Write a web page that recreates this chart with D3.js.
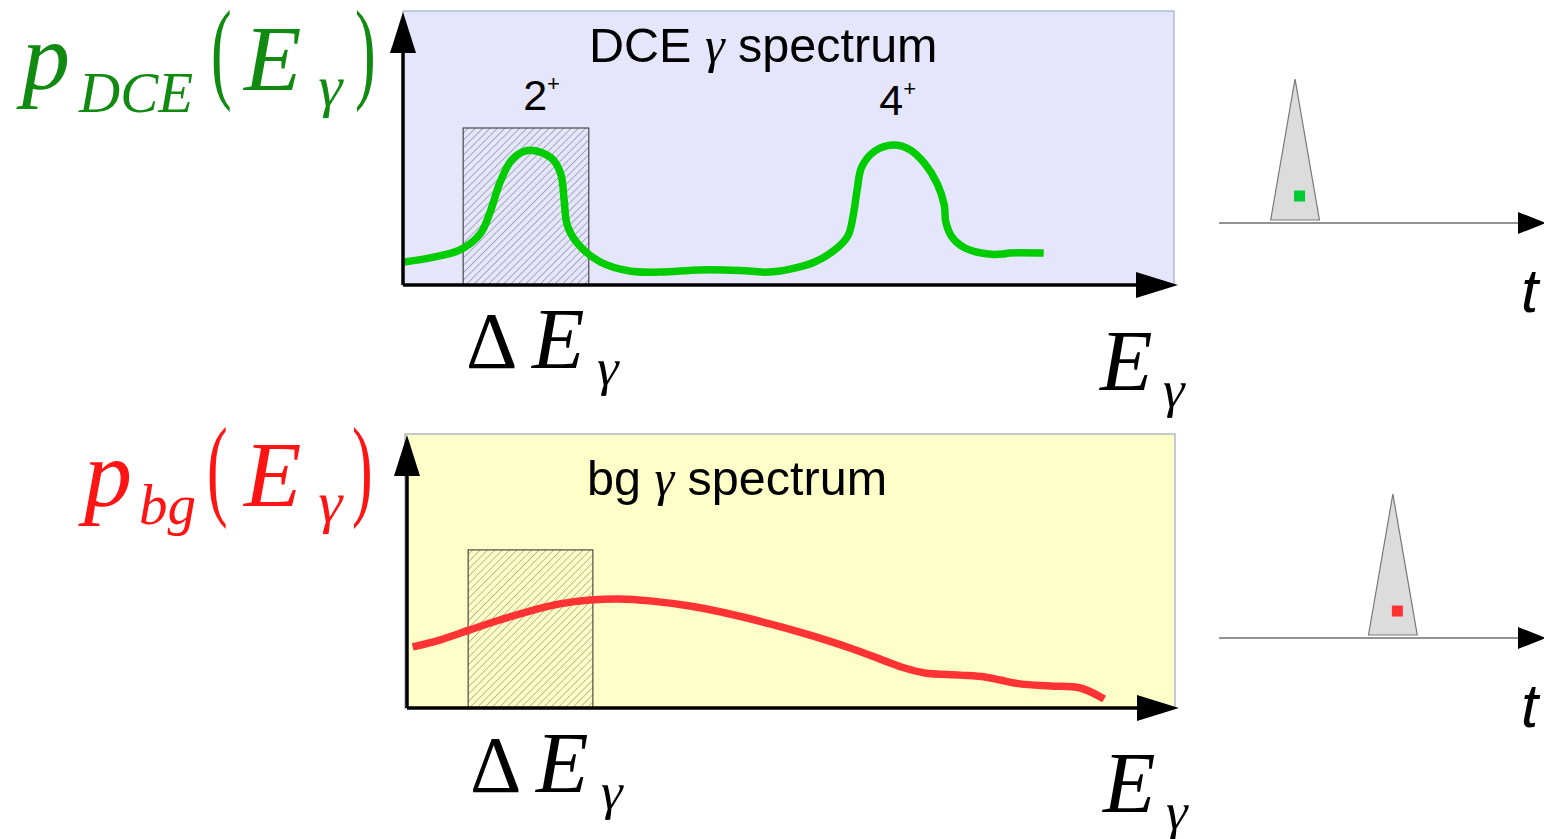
<!DOCTYPE html>
<html>
<head>
<meta charset="utf-8">
<script src="https://cdn.jsdelivr.net/npm/d3@7"></script>
<style>
  html, body { margin: 0; padding: 0; background: #ffffff; }
  svg { display: block; }
  .sans { font-family: "Liberation Sans", Arial, sans-serif; }
  .math { font-family: "Liberation Serif", "DejaVu Serif", serif; font-style: italic; }
  .greek { font-family: "Liberation Serif", "DejaVu Serif", serif; }
  .upright { font-family: "Liberation Serif", "DejaVu Serif", serif; }
</style>
</head>
<body>
<svg id="fig" width="1544" height="839"></svg>
<script>
// ---- data ----------------------------------------------------------------
// Energy axis in arbitrary units 0..100, probability density 0..1
const dceEnergy = [0.1, 3.5, 7.4, 10.0, 11.3, 12.6, 14.1, 15.8, 17.8, 19.5, 20.5, 20.9, 21.3, 22.6, 25.6, 29.4, 33.3, 38.5, 43.7, 47.3, 50.2, 53.4, 56.0, 57.7, 58.4, 58.9, 59.5, 61.2, 63.6, 65.8, 67.7, 69.3, 70.2, 70.4, 71.2, 72.9, 75.9, 77.8, 78.7, 83.1];
const dceDensity = [0.084, 0.099, 0.128, 0.186, 0.266, 0.376, 0.456, 0.489, 0.485, 0.456, 0.401, 0.310, 0.219, 0.153, 0.084, 0.051, 0.047, 0.055, 0.053, 0.047, 0.058, 0.084, 0.128, 0.179, 0.255, 0.347, 0.431, 0.489, 0.511, 0.493, 0.442, 0.369, 0.292, 0.230, 0.175, 0.135, 0.113, 0.113, 0.117, 0.117];

const bgEnergy = [1.0, 4.5, 8.4, 12.3, 16.2, 20.1, 24.0, 27.9, 31.8, 37.0, 42.2, 47.4, 52.6, 57.8, 62.3, 64.9, 67.5, 72.1, 75.3, 77.3, 79.9, 83.8, 87.7, 90.8];
const bgDensity = [0.223, 0.248, 0.285, 0.321, 0.354, 0.380, 0.394, 0.398, 0.391, 0.372, 0.343, 0.307, 0.266, 0.219, 0.172, 0.146, 0.128, 0.120, 0.113, 0.102, 0.088, 0.080, 0.073, 0.033];

// Energy gate ΔE_γ around the 2+ line: [from, to, height on the density axis]
const gateDce = [7.8, 24.1, 0.573];
const gateBg = [8.2, 24.4, 0.577];

// Peak labels [label, energy, density]
const peakLabels = [["2", 17.4, 0.64], ["4", 63.6, 0.62]];

// Time structure: pulse centres, half-width, height, marker level
const pulseTimes = [23.4, 53.5];
const pulseHalfWidth = 7.5;
const pulseHeight = 1.0;
const markerLevel = 0.17;

// ---- layout --------------------------------------------------------------
const svg = d3.select("#fig");
const defs = svg.append("defs");

const panels = [
  { key: "dce", x0: 403, x1: 1174, y0: 11, y1: 285, fill: "#e5e5fb", border: "#9fb0cf",
    hatch: "#6c6c80", curve: "#00cc00", E: dceEnergy, P: dceDensity, gate: gateDce,
    title: "DCE", titleX: 589, titleY: 62, axisX: 403, axisY: 285 },
  { key: "bg", x0: 405, x1: 1175, y0: 434, y1: 708, fill: "#fefec8", border: "#9aa6be",
    hatch: "#80805a", curve: "#ff3333", E: bgEnergy, P: bgDensity, gate: gateBg,
    title: "bg", titleX: 587, titleY: 495, axisX: 407, axisY: 708 }
];

panels.forEach(p => {
  const x = d3.scaleLinear().domain([0, 100]).range([p.x0, p.x1]);
  const y = d3.scaleLinear().domain([0, 1]).range([p.y1, p.y0]);
  const g = svg.append("g");

  // background
  g.append("rect")
    .attr("x", p.x0).attr("y", p.y0)
    .attr("width", p.x1 - p.x0).attr("height", p.y1 - p.y0)
    .attr("fill", p.fill).attr("stroke", p.border).attr("stroke-width", 1.2);

  // hatch pattern for the energy gate
  const step = 5.2;
  const pat = defs.append("pattern")
    .attr("id", "hatch-" + p.key)
    .attr("patternUnits", "userSpaceOnUse")
    .attr("width", step).attr("height", step)
    .attr("patternTransform", "rotate(45)");
  pat.append("rect").attr("width", step).attr("height", step).attr("fill", p.fill);
  pat.append("line")
    .attr("x1", 0).attr("y1", 0).attr("x2", 0).attr("y2", step)
    .attr("stroke", p.hatch).attr("stroke-width", 1);

  g.append("rect")
    .attr("x", x(p.gate[0])).attr("y", y(p.gate[2]))
    .attr("width", x(p.gate[1]) - x(p.gate[0]))
    .attr("height", y(0) - y(p.gate[2]))
    .attr("fill", "url(#hatch-" + p.key + ")")
    .attr("stroke", "#2a2a2a").attr("stroke-width", 1);

  // spectrum curve
  const pts = p.E.map((e, i) => [e, p.P[i]]);
  g.append("path")
    .datum(pts)
    .attr("d", d3.line().x(d => x(d[0])).y(d => y(d[1])).curve(d3.curveCatmullRom.alpha(0.5)))
    .attr("fill", "none").attr("stroke", p.curve).attr("stroke-width", 7.5)
    .attr("stroke-linejoin", "round");

  // axes with arrowheads
  const ax = p.axisX, ay = p.axisY;
  g.append("line").attr("x1", ax).attr("y1", ay).attr("x2", p.x1 - 20).attr("y2", ay)
    .attr("stroke", "#000").attr("stroke-width", 3.5);
  g.append("line").attr("x1", ax).attr("y1", ay).attr("x2", ax).attr("y2", p.y0 + 30)
    .attr("stroke", "#000").attr("stroke-width", 3.5);
  const tipX = p.x1 + 4;
  g.append("path")
    .attr("d", `M${tipX},${ay} L${tipX - 42},${ay - 13} L${tipX - 42},${ay + 13} Z`)
    .attr("fill", "#000");
  const tipY = p.y0 + 1;
  g.append("path")
    .attr("d", `M${ax},${tipY} L${ax - 13},${tipY + 41} L${ax + 13},${tipY + 41} Z`)
    .attr("fill", "#000");

  // panel title
  const t = g.append("text").attr("class", "sans")
    .attr("x", p.titleX).attr("y", p.titleY)
    .attr("font-size", 48.5).attr("fill", "#000");
  t.append("tspan").text(p.title + " ");
  t.append("tspan").attr("font-family", "Liberation Serif, serif")
    .attr("font-style", "italic").attr("font-size", 50).text("γ");
  t.append("tspan").text(" spectrum");

  if (p.key === "dce") {
    peakLabels.forEach(([lab, e, d]) => {
      const lt = g.append("text").attr("class", "sans")
        .attr("x", x(e) - 14).attr("y", y(d))
        .attr("font-size", 43).attr("fill", "#000");
      lt.append("tspan").text(lab);
      lt.append("tspan").attr("font-size", 22).attr("dy", -19).text("+");
    });
  }
});

// ---- mathematical labels -------------------------------------------------
function parens(x, base, color, which) {
  svg.append("text").attr("class", "upright")
    .attr("transform", `translate(${x},${base}) scale(1,1.8)`)
    .attr("font-size", 62).attr("fill", color).text(which);
}

function greek(x, base, size, color) {
  // slightly slanted upright γ, as in the math typesetting
  svg.append("text").attr("class", "greek")
    .attr("transform", `translate(${x},${base}) skewX(-10)`)
    .attr("font-size", size).attr("fill", color).text("γ");
}

function densityLabel(o) {
  const c = o.color;
  svg.append("text").attr("class", "math").attr("x", o.px).attr("y", o.pBase)
    .attr("font-size", 96).attr("fill", c).text("p");
  svg.append("text").attr("class", "math").attr("x", o.subX).attr("y", o.subBase)
    .attr("font-size", 57).attr("fill", c).text(o.sub);
  parens(o.lpX, o.parBase, c, "(");
  svg.append("text").attr("class", "math").attr("x", o.eX).attr("y", o.eBase)
    .attr("font-size", 94).attr("fill", c).text("E");
  greek(o.gX, o.gBase, 58, c);
  parens(o.rpX, o.parBase, c, ")");
}

densityLabel({ color: "#118a11", px: 22, pBase: 89, sub: "DCE", subX: 79, subBase: 112,
  lpX: 211, parBase: 88, eX: 244, eBase: 90, gX: 315, gBase: 106, rpX: 355 });
densityLabel({ color: "#ff1414", px: 84, pBase: 506, sub: "bg", subX: 139, subBase: 524,
  lpX: 207, parBase: 505, eX: 244, eBase: 506, gX: 315, gBase: 522, rpX: 352 });

function gateLabel(x, base) {
  svg.append("text").attr("class", "upright").attr("x", x).attr("y", base)
    .attr("font-size", 80).attr("fill", "#000").text("Δ");
  svg.append("text").attr("class", "math").attr("x", x + 66).attr("y", base)
    .attr("font-size", 86).attr("fill", "#000").text("E");
  greek(x + 128, base + 17, 52, "#000");
}
gateLabel(466, 368);
gateLabel(470, 792);

function energyLabel(x, base) {
  svg.append("text").attr("class", "math").attr("x", x).attr("y", base)
    .attr("font-size", 86).attr("fill", "#000").text("E");
  greek(x + 60, base + 17, 52, "#000");
}
energyLabel(1100, 390);
energyLabel(1103, 812);

// ---- time structure ------------------------------------------------------
const tScale = d3.scaleLinear().domain([0, 100]).range([1219, 1544]);
const timeRows = [
  { axisY: 223, top: 79, marker: "#00cc33" },
  { axisY: 638, top: 494, marker: "#ff3333" }
];

timeRows.forEach((r, i) => {
  const base = r.axisY - 3;
  const h = d3.scaleLinear().domain([0, 1]).range([base, r.top]);
  const g = svg.append("g");
  g.append("line").attr("x1", tScale(0)).attr("x2", tScale(95))
    .attr("y1", r.axisY).attr("y2", r.axisY)
    .attr("stroke", "#6f6f6f").attr("stroke-width", 1.6);
  const tip = tScale(100) + 2;
  g.append("path")
    .attr("d", `M${tip},${r.axisY} L${tip - 28},${r.axisY - 11} L${tip - 28},${r.axisY + 11} Z`)
    .attr("fill", "#000");

  const c = pulseTimes[i];
  const tri = [[c - pulseHalfWidth, 0], [c, pulseHeight], [c + pulseHalfWidth, 0]];
  g.append("path")
    .datum(tri)
    .attr("d", d3.line().x(d => tScale(d[0])).y(d => h(d[1])).curve(d3.curveLinearClosed))
    .attr("fill", "#dcdcdc").attr("stroke", "#777").attr("stroke-width", 1.2);

  g.append("rect")
    .attr("x", tScale(c) - 1).attr("y", h(markerLevel) - 5.5)
    .attr("width", 11).attr("height", 11).attr("fill", r.marker);

  g.append("text").attr("class", "sans")
    .attr("x", 1521).attr("y", r.axisY + 89)
    .attr("font-size", 62).attr("font-style", "italic").attr("fill", "#000").text("t");
});
</script>
</body>
</html>
